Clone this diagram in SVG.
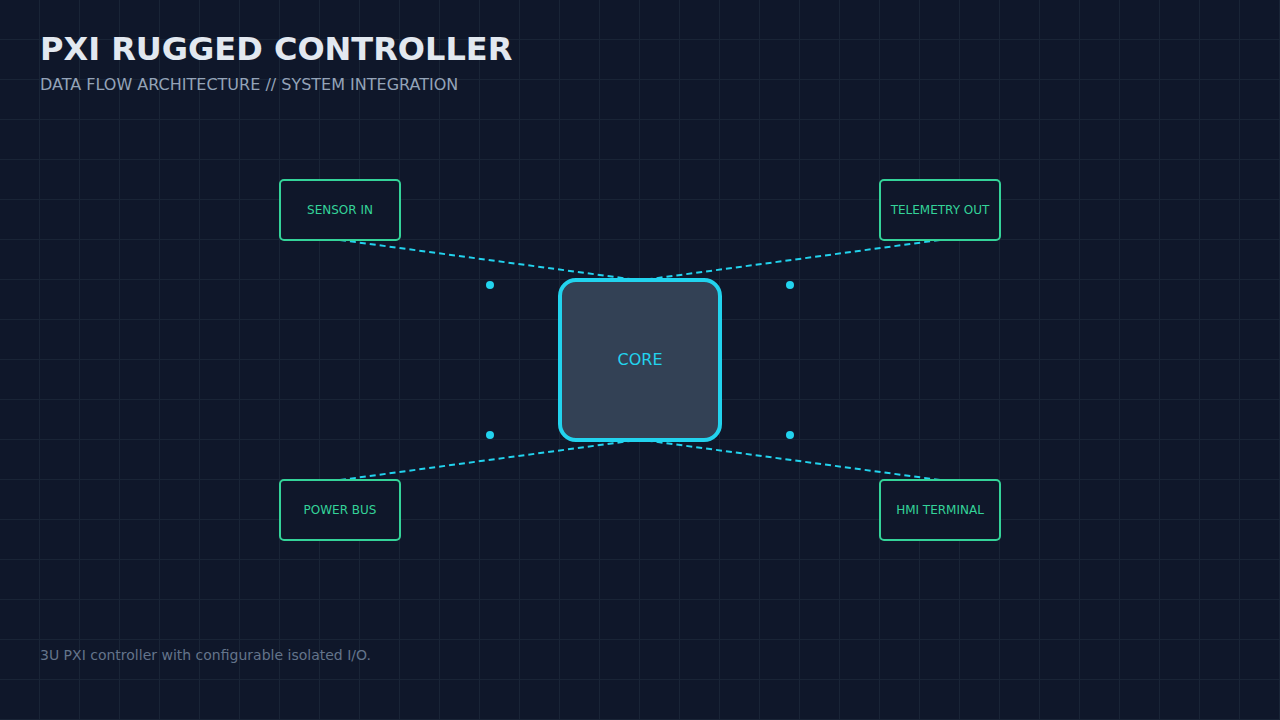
<svg xmlns="http://www.w3.org/2000/svg" width="1280" height="720" viewBox="0 0 1280 720">
<defs>
<pattern id="grid" width="40" height="40" patternUnits="userSpaceOnUse">
<path d="M40 0V40M0 40H40" fill="none" stroke="#1e293b" stroke-width="2" opacity="0.7"/>
</pattern>
<style>
text{font-family:"DejaVu Sans",sans-serif}
.node rect{fill:#0f172a;stroke:#34d399;stroke-width:2}
.node text{fill:#34d399;font-size:12px;text-anchor:middle}
.conn line{stroke:#22d3ee;stroke-width:2;stroke-dasharray:6 4}
.dot{fill:#22d3ee}
</style>
</defs>
<rect width="1280" height="720" fill="#0f172a"/>
<rect width="1280" height="720" fill="url(#grid)"/>
<text x="40" y="60" font-size="32" font-weight="bold" fill="#e2e8f0">PXI RUGGED CONTROLLER</text>
<text x="40" y="90" font-size="16" fill="#94a3b8">DATA FLOW ARCHITECTURE // SYSTEM INTEGRATION</text>
<g class="conn" id="connectors">
<line x1="340" y1="240" x2="630" y2="279"/>
<line x1="940" y1="240" x2="650" y2="279"/>
<line x1="340" y1="480" x2="630" y2="441"/>
<line x1="940" y1="480" x2="650" y2="441"/>
</g>
<g id="dots">
<circle class="dot" cx="490" cy="285" r="4"/>
<circle class="dot" cx="790" cy="285" r="4"/>
<circle class="dot" cx="490" cy="435" r="4"/>
<circle class="dot" cx="790" cy="435" r="4"/>
</g>
<g id="core">
<rect x="560" y="280" width="160" height="160" rx="16" fill="#334155" stroke="#22d3ee" stroke-width="4"/>
<text x="640" y="365" font-size="16" fill="#22d3ee" text-anchor="middle">CORE</text>
</g>
<g class="node" id="sensor-in"><rect x="280" y="180" width="120" height="60" rx="4"/><text x="340" y="214">SENSOR IN</text></g>
<g class="node" id="telemetry-out"><rect x="880" y="180" width="120" height="60" rx="4"/><text x="940" y="214">TELEMETRY OUT</text></g>
<g class="node" id="power-bus"><rect x="280" y="480" width="120" height="60" rx="4"/><text x="340" y="514">POWER BUS</text></g>
<g class="node" id="hmi-terminal"><rect x="880" y="480" width="120" height="60" rx="4"/><text x="940" y="514">HMI TERMINAL</text></g>
<text x="40" y="660" font-size="14" fill="#64748b">3U PXI controller with configurable isolated I/O.</text>
</svg>
